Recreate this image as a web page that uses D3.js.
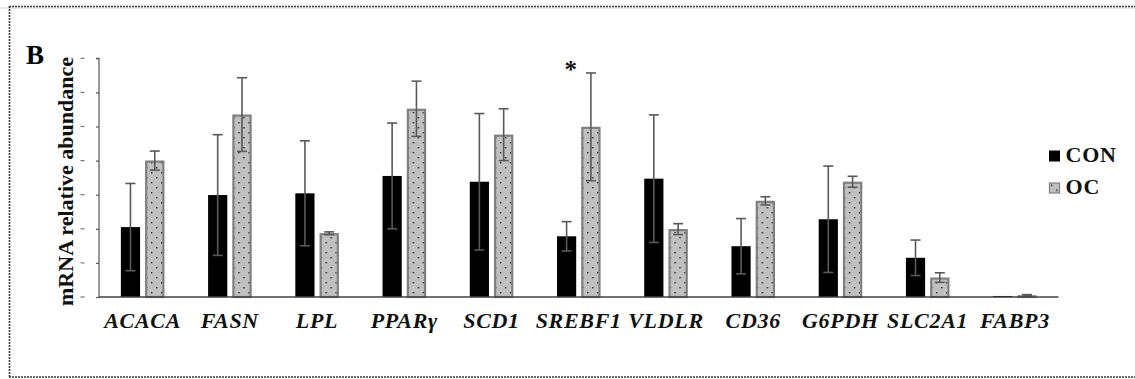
<!DOCTYPE html>
<html>
<head>
<meta charset="utf-8">
<script src="https://cdn.jsdelivr.net/npm/d3@7"></script>
<style>
  html, body { margin: 0; padding: 0; background: #fff; }
  svg { display: block; }
</style>
</head>
<body>
<svg id="chart" width="1135" height="379"></svg>
<script>
// ---- data (values in units of y-axis tick intervals) ----
const genes = ["ACACA", "FASN", "LPL", "PPARγ", "SCD1", "SREBF1", "VLDLR", "CD36", "G6PDH", "SLC2A1", "FABP3"];
const groups = ["CON", "OC"];
const conValues = [2.05, 2.99, 3.04, 3.55, 3.38, 1.78, 3.47, 1.49, 2.28, 1.15, 0.03];
const conErrors = [1.28, 1.77, 1.54, 1.55, 2.00, 0.43, 1.87, 0.81, 1.56, 0.52, 0.00];
const ocValues  = [4.00, 5.35, 1.87, 5.52, 4.76, 4.99, 1.99, 2.82, 3.38, 0.57, 0.05];
const ocErrors  = [0.28, 1.08, 0.04, 0.81, 0.76, 1.58, 0.16, 0.12, 0.16, 0.14, 0.02];
const yTicks = [0, 1, 2, 3, 4, 5, 6, 7];
const significant = ["SREBF1"]; // marked with *
const yTitle = "mRNA relative abundance";
const panelLabel = "B";

const rows = genes.map((g, i) => ({
  gene: g,
  bars: [
    { group: "CON", value: conValues[i], err: conErrors[i] },
    { group: "OC", value: ocValues[i], err: ocErrors[i] }
  ]
}));

// ---- layout ----
const svg = d3.select("#chart");
const serif = "Liberation Serif, Times New Roman, serif";
const x0 = 99, x1 = 1058.5, yBottom = 297, yTop = 58.3;

const x = d3.scaleBand().domain(genes).range([x0, x1]).paddingInner(0).paddingOuter(0);
const xi = d3.scaleBand().domain(groups).range([0, x.bandwidth()]).paddingInner(0.21).paddingOuter(0.9);
const y = d3.scaleLinear().domain([0, 7]).range([yBottom, yTop]);

// frame
svg.append("rect").attr("x", 0).attr("y", 7).attr("width", 1135).attr("height", 2).attr("fill", "#e6e6e6");
svg.append("line").attr("x1", 9).attr("x2", 1135).attr("y1", 6.5).attr("y2", 6.5)
  .attr("stroke", "#3a3a3a").attr("stroke-width", 1.6).attr("stroke-dasharray", "2,1");
svg.append("line").attr("x1", 9).attr("x2", 1135).attr("y1", 377).attr("y2", 377)
  .attr("stroke", "#3a3a3a").attr("stroke-width", 1.6).attr("stroke-dasharray", "2,1");
svg.append("line").attr("x1", 9.5).attr("x2", 9.5).attr("y1", 6).attr("y2", 378)
  .attr("stroke", "#3a3a3a").attr("stroke-width", 1.6).attr("stroke-dasharray", "2,1");

// dot pattern for OC
const defs = svg.append("defs");
const pat = defs.append("pattern").attr("id", "dots").attr("patternUnits", "userSpaceOnUse")
  .attr("width", 10).attr("height", 10);
pat.append("rect").attr("width", 10).attr("height", 10).attr("fill", "#c0c0c0");
pat.append("rect").attr("x", 2).attr("y", 2).attr("width", 1.4).attr("height", 1.4).attr("fill", "#222");
pat.append("rect").attr("x", 7).attr("y", 7).attr("width", 1.4).attr("height", 1.4).attr("fill", "#222");

// y axis (ticks only, dash labels)
const yAxis = d3.axisLeft(y).tickValues(yTicks).tickSize(3).tickFormat(() => "");
const gy = svg.append("g").attr("transform", `translate(${x0},0)`).call(yAxis);
gy.select(".domain").attr("stroke", "#595959").attr("stroke-width", 1.2).attr("d", `M-3,${yTop}H0V${yBottom}`);
gy.selectAll(".tick line").attr("stroke", "#595959").attr("stroke-width", 1.2);
svg.append("g").selectAll("line").data(yTicks).join("line")
  .attr("x1", 80.5).attr("x2", 84.5)
  .attr("y1", d => y(d)).attr("y2", d => y(d))
  .attr("stroke", "#777").attr("stroke-width", 1.2);

// bars
const gGene = svg.append("g").selectAll("g").data(rows).join("g")
  .attr("transform", d => `translate(${x(d.gene)},0)`);

gGene.selectAll("rect.bar").data(d => d.bars).join("rect")
  .attr("class", "bar")
  .attr("x", d => xi(d.group) + (d.group === "OC" ? 1 : 0))
  .attr("width", d => xi.bandwidth() - (d.group === "OC" ? 2 : 0))
  .attr("y", d => y(d.value) + (d.group === "OC" ? 1 : 0))
  .attr("height", d => Math.max(0, yBottom - y(d.value) - (d.group === "OC" ? 1 : 0)))
  .attr("fill", d => d.group === "CON" ? "#000" : "url(#dots)")
  .attr("stroke", d => d.group === "CON" ? "none" : "#808080")
  .attr("stroke-width", 2.2);

// error bars
const capW = 5;
const eb = gGene.selectAll("g.err").data(d => d.bars.filter(b => b.err > 0)).join("g").attr("class", "err")
  .attr("stroke", "#595959").attr("stroke-width", 1.6);
eb.append("line")
  .attr("x1", d => xi(d.group) + xi.bandwidth() / 2).attr("x2", d => xi(d.group) + xi.bandwidth() / 2)
  .attr("y1", d => y(d.value + d.err)).attr("y2", d => y(d.value - d.err));
eb.append("line")
  .attr("x1", d => xi(d.group) + xi.bandwidth() / 2 - capW).attr("x2", d => xi(d.group) + xi.bandwidth() / 2 + capW)
  .attr("y1", d => y(d.value + d.err)).attr("y2", d => y(d.value + d.err));
eb.append("line")
  .attr("x1", d => xi(d.group) + xi.bandwidth() / 2 - capW).attr("x2", d => xi(d.group) + xi.bandwidth() / 2 + capW)
  .attr("y1", d => y(d.value - d.err)).attr("y2", d => y(d.value - d.err));

// x baseline
svg.append("line").attr("x1", x0).attr("x2", x1).attr("y1", yBottom).attr("y2", yBottom)
  .attr("stroke", "#404040").attr("stroke-width", 1.4);

// x labels
svg.append("g").selectAll("text").data(genes).join("text")
  .attr("x", d => x(d) + x.bandwidth() / 2)
  .attr("y", 328)
  .attr("text-anchor", "middle")
  .attr("font-family", serif).attr("font-weight", "bold").attr("font-style", "italic")
  .attr("font-size", 22).attr("letter-spacing", 0.7)
  .attr("fill", "#111")
  .text(d => d);

// significance marker
svg.append("g").selectAll("text").data(rows.filter(r => significant.includes(r.gene))).join("text")
  .attr("x", d => x(d.gene) + x.bandwidth() / 2 - 8)
  .attr("y", 78)
  .attr("text-anchor", "middle")
  .attr("font-family", serif).attr("font-weight", "bold").attr("font-size", 25)
  .attr("fill", "#111")
  .text("*");

// y title
svg.append("text")
  .attr("transform", `translate(73,${(65 + 298) / 2}) rotate(-90)`)
  .attr("text-anchor", "middle")
  .attr("font-family", serif).attr("font-weight", "bold").attr("font-size", 22)
  .attr("fill", "#111")
  .text(yTitle);

// panel label
svg.append("text").attr("x", 26).attr("y", 63.5)
  .attr("font-family", serif).attr("font-weight", "bold").attr("font-size", 27)
  .attr("fill", "#000").text(panelLabel);

// legend
const leg = svg.append("g").selectAll("g").data(groups).join("g")
  .attr("transform", (d, i) => `translate(1049,${150.5 + i * 32})`);
leg.append("rect").attr("x", d => d === "OC" ? 0.5 : 0).attr("y", d => d === "OC" ? 0.5 : 0)
  .attr("width", d => d === "OC" ? 10 : 11).attr("height", d => d === "OC" ? 10 : 11)
  .attr("fill", d => d === "CON" ? "#000" : "url(#dots)")
  .attr("stroke", d => d === "CON" ? "none" : "#808080").attr("stroke-width", 1.2);
leg.append("text").attr("x", 16.5).attr("y", 11.5)
  .attr("font-family", serif).attr("font-weight", "bold").attr("font-size", 22)
  .attr("letter-spacing", 0.8)
  .attr("fill", "#111").text(d => d);
</script>
</body>
</html>
